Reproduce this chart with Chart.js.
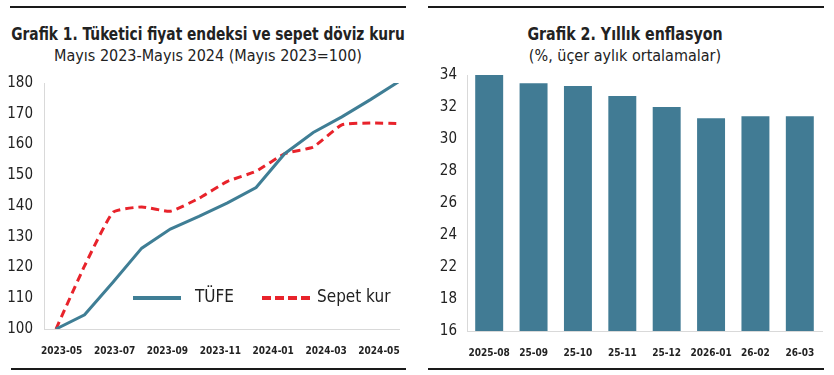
<!DOCTYPE html>
<html>
<head>
<meta charset="utf-8">
<script src="https://cdn.jsdelivr.net/npm/chart.js@4.4.1/dist/chart.umd.min.js"></script>
<style>
  body { margin: 0; background: #fff; font-family: "DejaVu Sans Condensed", sans-serif; color: #222; }
  #wrap { position: relative; width: 834px; height: 375px; overflow: hidden; }
  canvas { position: absolute; top: 0; }
  .rule { position: absolute; height: 2px; background: #1a1a1a; }
  .ttl { position: absolute; text-align: center; white-space: nowrap; transform-origin: 50% 50%; }
  .ttl b { font-size: 17px; font-weight: bold; }
  .ttl span { font-size: 16px; }
  .lg { position: absolute; font-size: 17px; }
</style>
</head>
<body>
<div id="wrap">
  <div class="rule" style="left:10px; width:396px; top:6px"></div>
  <div class="rule" style="left:428px; width:396px; top:6px"></div>
  <div class="rule" style="left:11px; width:395px; top:368px"></div>
  <div class="rule" style="left:428px; width:396px; top:368px"></div>

  <div class="ttl" style="left:-42px; width:500px; top:24px; transform:scaleX(0.9)"><b>Grafik 1. Tüketici fiyat endeksi ve sepet döviz kuru</b></div>
  <div class="ttl" style="left:8px; width:400px; top:46px"><span>Mayıs 2023-Mayıs 2024 (Mayıs 2023=100)</span></div>
  <div class="ttl" style="left:425px; width:400px; top:24px; transform:scaleX(0.93)"><b>Grafik 2. Yıllık enflasyon</b></div>
  <div class="ttl" style="left:425px; width:400px; top:46px"><span>(%, üçer aylık ortalamalar)</span></div>

  <canvas id="graph-endeks" width="420" height="375" style="left:0"></canvas>
  <canvas id="graph-enflasyon" width="414" height="375" style="left:420px"></canvas>

  <!-- légende dans la zone du graphique 1 -->
  <div style="position:absolute; left:133px; top:296px; width:48px; height:4px; background:#3f7e95"></div>
  <div class="lg" style="left:195px; top:286px">TÜFE</div>
  <div style="position:absolute; left:262px; top:296px; width:48px; height:4px; background:repeating-linear-gradient(90deg,#e8232b 0 9px,transparent 9px 13px)"></div>
  <div class="lg" style="left:317px; top:286px">Sepet kur</div>
</div>
<script>
'use strict';

// Données du graphique 1 (Mayıs 2023 = 100)
const aylar = ['2023-05','2023-06','2023-07','2023-08','2023-09','2023-10','2023-11',
               '2023-12','2024-01','2024-02','2024-03','2024-04','2024-05'];
const tufe = [100, 104.6, 115.3, 126.3, 132.5, 136.6, 141.0, 146.0, 157.0, 163.9, 169.0, 174.6, 180.5];
const sepetKur = [100, 120.5, 138.0, 139.7, 138.3, 142.5, 148.0, 151.3, 157.0, 159.2, 166.4, 167.0, 166.8];
const etiketler1 = ['2023-05','2023-07','2023-09','2023-11','2024-01','2024-03','2024-05'];

// Données du graphique 2
const donemler = ['2025-08','25-09','25-10','25-11','25-12','2026-01','26-02','26-03'];
const enflasyon = [34.0, 33.48, 33.31, 32.68, 32.0, 31.29, 31.42, 31.42];
const yEtiketler2 = ['16','18','22','24','26','28','30','32','34'];

const fontAxe = '"DejaVu Sans Condensed", sans-serif';
const bleu = '#3f7e95';
const rouge = '#e8232b';
const gris = '#d9d9d9';

// Graphique 1 : lignes TÜFE et sepet kur
new Chart(document.getElementById('graph-endeks').getContext('2d'), {
    type: 'line',
    data: {
        datasets: [{
            label: 'TÜFE',
            data: tufe.map((v, i) => ({ x: i, y: v })),
            borderColor: bleu,
            borderWidth: 3,
            pointRadius: 0,
            tension: 0
        }, {
            label: 'Sepet kur',
            data: sepetKur.map((v, i) => ({ x: i, y: v })),
            borderColor: rouge,
            borderWidth: 3,
            borderDash: [8, 5],
            pointRadius: 0,
            tension: 0.15
        }]
    },
    options: {
        responsive: false,
        animation: false,
        layout: { padding: { left: 0, top: 83, right: 21, bottom: 0 } },
        plugins: { legend: { display: false }, tooltip: { enabled: false } },
        scales: {
            x: {
                type: 'linear',
                min: -0.42,
                max: 12,
                grid: { display: false },
                border: { color: gris, width: 1 },
                afterFit: s => { s.height = 46; },
                // étiquettes d'axe décalées comme dans l'original
                afterBuildTicks: s => { s.ticks = etiketler1.map((_, i) => ({ value: 0.2 + i * 1.85 })); },
                ticks: {
                    autoSkip: false,
                    maxRotation: 0,
                    padding: 8,
                    color: '#222',
                    font: { family: fontAxe, size: 10, weight: 'bold' },
                    callback: (v, i) => etiketler1[i]
                }
            },
            y: {
                min: 100,
                max: 180,
                grid: { display: false },
                border: { color: gris, width: 1 },
                afterFit: s => { s.width = 44; },
                ticks: {
                    stepSize: 10,
                    padding: 3,
                    color: '#222',
                    font: { family: fontAxe, size: 15 }
                }
            }
        }
    }
});

// Graphique 2 : barres d'inflation annuelle
new Chart(document.getElementById('graph-enflasyon').getContext('2d'), {
    type: 'bar',
    data: {
        labels: donemler,
        datasets: [{
            label: 'Yıllık enflasyon',
            data: enflasyon,
            backgroundColor: '#417b94',
            barPercentage: 0.63,
            categoryPercentage: 1
        }]
    },
    options: {
        responsive: false,
        animation: false,
        layout: { padding: { left: 0, top: 75, right: 12, bottom: 0 } },
        plugins: { legend: { display: false }, tooltip: { enabled: false } },
        scales: {
            x: {
                grid: { display: false },
                border: { color: gris, width: 1 },
                afterFit: s => { s.height = 44; },
                ticks: {
                    autoSkip: false,
                    maxRotation: 0,
                    padding: 8,
                    color: '#222',
                    font: { family: fontAxe, size: 10, weight: 'bold' }
                }
            },
            y: {
                min: 18,
                max: 34,
                grid: { display: false },
                border: { color: gris, width: 1 },
                afterFit: s => { s.width = 47; },
                ticks: {
                    stepSize: 2,
                    padding: 2,
                    color: '#222',
                    font: { family: fontAxe, size: 15 },
                    callback: (v, i) => yEtiketler2[i]
                }
            }
        }
    }
});
</script>
</body>
</html>
